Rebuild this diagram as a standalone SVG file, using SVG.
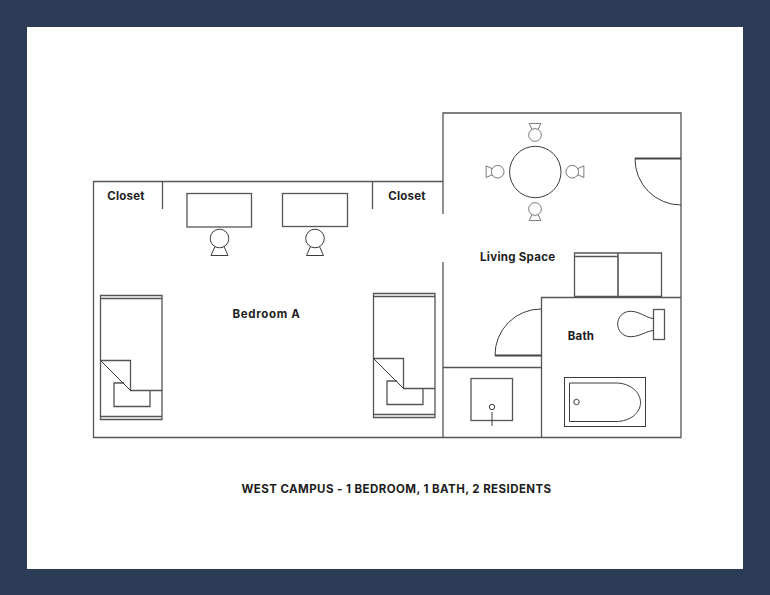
<svg xmlns="http://www.w3.org/2000/svg" width="770" height="595" viewBox="0 0 770 595">
<style>
.l{fill:none;stroke:#3c3c3c;stroke-width:1}
.g{fill:none;stroke:#555;stroke-width:1.3}
.t{font-family:Inter,"Liberation Sans",sans-serif;font-weight:700;font-size:11.5px;fill:#1d1d1d;text-anchor:middle;letter-spacing:.2px}
.w{letter-spacing:.43px}
.m{letter-spacing:.65px}
.s{letter-spacing:.28px}
</style>
<defs>
<g id="chair"><circle cx="0" cy="0" r="9.300" class="l"/><path d="M-4.500 8L-8.500 17H8.500L4.500 8" class="l"/></g>
<g id="bed"><path d="M0 0H61.500V124H0ZM0 3H61.500M0 121H61.500" class="g"/><path d="M0 65H30V95H61.500M23.700 87.500H13.500V111H49.500V95" class="g"/><path d="M0 65L30 95" class="l"/></g>
</defs>
<rect width="770" height="595" fill="#2c3c57"/>
<rect x="27" y="27" width="716" height="542" fill="#fff"/>
<g id="walls">
<path d="M443 214V113H681V437.500H93.500V181.500H443" class="g"/>
<path d="M443 262V437.500M162.500 181.500V209M372.500 181.500V209M443 367.500H541.500M541.500 437.500V297.500H681" class="g"/>
</g>
<g id="desk-1"><rect x="187" y="193.500" width="64.500" height="33.500" class="g"/><use href="#chair" x="219.500" y="238.500"/></g>
<g id="desk-2"><rect x="282.500" y="193.500" width="65" height="33" class="g"/><use href="#chair" x="315" y="238.500"/></g>
<g id="bed-1"><use href="#bed" x="100.500" y="295.500"/></g>
<g id="bed-2"><use href="#bed" x="373.500" y="293.500"/></g>
<g id="table"><circle cx="535.300" cy="172" r="25.700" class="l"/>
<use href="#chair" transform="translate(535 135) rotate(180) scale(.68)"/>
<use href="#chair" transform="translate(535 209) scale(.68)"/>
<use href="#chair" transform="translate(497.700 171.700) rotate(90) scale(.68)"/>
<use href="#chair" transform="translate(572.300 171.700) rotate(-90) scale(.68)"/></g>
<g id="door-entry"><path d="M635 158.500H681" stroke="#444" stroke-width="2" fill="none"/><path d="M635 158.500A46 46 0 0 0 681 205" class="l"/></g>
<g id="door-bath"><path d="M495 355.500H541" stroke="#444" stroke-width="2" fill="none"/><path d="M495 355.500A46 46 0 0 1 541 309" class="l"/></g>
<g id="couch"><path d="M574.500 253H661.500V296.500H574.500ZM574.500 256.500H618" class="g"/><path d="M618 253V296.500" stroke="#666" stroke-width="1.800"/></g>
<g id="sink"><rect x="471" y="378.500" width="41.500" height="42" class="g"/><circle cx="492" cy="407" r="2.700" class="l"/><path d="M492 412V426" class="l"/></g>
<g id="toilet"><rect x="653.500" y="309.500" width="11" height="30" class="g"/><path d="M653.500 318.500C646 318 640 311.300 630.500 311.300C622.500 311.300 617.700 317.500 617.700 324C617.700 330.500 622.500 336.700 630.500 336.700C640 336.700 646 331 653.500 330.500" class="l"/></g>
<g id="tub"><rect x="564.500" y="377.500" width="81" height="49" class="l"/><path d="M569.500 383H616C630 383 640.500 392 640.500 402.500C640.500 413 630 421.500 616 421.500H569.500Z" class="l"/><circle cx="576.500" cy="402" r="2.700" class="l"/></g>
<g id="labels">
<text class="t" x="126" y="200">Closet</text>
<text class="t" x="407" y="200">Closet</text>
<text class="t m" x="266.500" y="317.500">Bedroom A</text>
<text class="t s" x="517.700" y="261">Living Space</text>
<text class="t" x="581" y="340">Bath</text>
<text class="t w" x="396.500" y="492.500">WEST CAMPUS - 1 BEDROOM, 1 BATH, 2 RESIDENTS</text>
</g>
</svg>
